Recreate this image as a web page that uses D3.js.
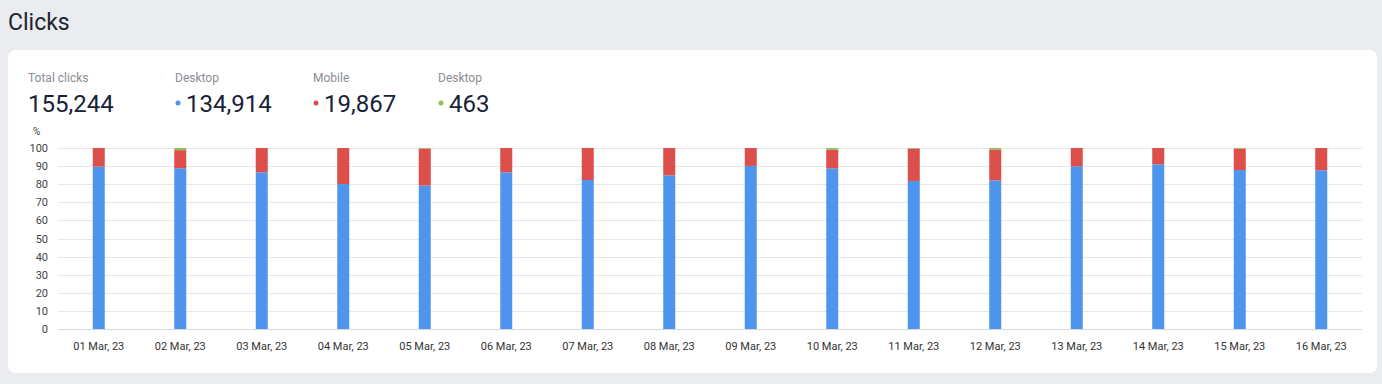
<!DOCTYPE html>
<html>
<head>
<meta charset="utf-8">
<script src="https://cdn.jsdelivr.net/npm/d3@7"></script>
<style>
  html, body { margin: 0; padding: 0; background: #eaecf0; }
  svg { display: block; font-family: Roboto, "Noto Sans", Arial, sans-serif; }
</style>
</head>
<body>
<svg id="chart" width="1382" height="384"></svg>
<script>
const categories = ["01 Mar, 23","02 Mar, 23","03 Mar, 23","04 Mar, 23","05 Mar, 23","06 Mar, 23","07 Mar, 23","08 Mar, 23","09 Mar, 23","10 Mar, 23","11 Mar, 23","12 Mar, 23","13 Mar, 23","14 Mar, 23","15 Mar, 23","16 Mar, 23"];
const desktop = [89.7, 88.8, 86.6, 80.1, 79.2, 86.6, 82.3, 84.9, 90.1, 88.8, 81.8, 82.1, 89.9, 91.0, 87.8, 87.7];
const other   = [0, 1.2, 0, 0, 0.3, 0, 0, 0, 0, 1.0, 0.3, 0.8, 0, 0, 0.3, 0];
const mobile  = desktop.map((d, i) => +(100 - d - other[i]).toFixed(1));
const yTicks = [0,10,20,30,40,50,60,70,80,90,100];
const summaryLabels = ["Total clicks","Desktop","Mobile","Desktop"];
const summaryValues = ["155,244","134,914","19,867","463"];
const seriesKeys = ["desktop","mobile","other"];
const seriesColors = ["#4f95ee","#dc4f4b","#8cc152"];

const svg = d3.select("#chart");

// Title
svg.append("text").attr("x", 8).attr("y", 30).attr("font-size", 23).attr("fill", "#1e2430").text("Clicks");

// Card
svg.append("rect").attr("x", 8).attr("y", 50).attr("width", 1369).attr("height", 323).attr("rx", 7).attr("fill", "#fff");

// Summary
const sumX = [28, 175, 313, 438];
summaryLabels.forEach((l, i) => {
  svg.append("text").attr("x", sumX[i]).attr("y", 82).attr("font-size", 12).attr("fill", "#8a8d93").text(l);
  let tx = sumX[i];
  if (i > 0) {
    svg.append("circle").attr("cx", sumX[i] + 3).attr("cy", 103).attr("r", 2.5).attr("fill", seriesColors[i - 1]);
    tx = sumX[i] + 11;
  }
  svg.append("text").attr("x", tx).attr("y", 112).attr("font-size", 24).attr("fill", "#182237").text(summaryValues[i]);
});

// Scales
const x = d3.scaleBand().domain(categories).range([58, 1362]).paddingInner(0).paddingOuter(0);
const y = d3.scaleLinear().domain([0, 100]).range([329, 148]);
const barW = 12;

// Grid
svg.append("g").selectAll("line").data(yTicks).join("line")
  .attr("x1", 58).attr("x2", 1362)
  .attr("y1", d => Math.round(y(d)) + 0.5).attr("y2", d => Math.round(y(d)) + 0.5)
  .attr("stroke", d => d === 0 ? "#d5d8dd" : "#e6e7ea").attr("stroke-width", 1);

// Y axis
const yAxis = svg.append("g").attr("transform", "translate(48,0)")
  .call(d3.axisLeft(y).tickValues(yTicks).tickSize(0).tickPadding(0));
yAxis.select(".domain").remove();
yAxis.selectAll("text").attr("font-size", 11).attr("fill", "#444").attr("font-family", "Roboto, Arial, sans-serif");
svg.append("text").attr("x", 33).attr("y", 135).attr("font-size", 10).attr("fill", "#444").text("%");

// X axis
const xAxis = svg.append("g").attr("transform", "translate(0,340)")
  .call(d3.axisBottom(x).tickSize(0).tickPadding(0));
xAxis.select(".domain").remove();
xAxis.selectAll("text").attr("font-size", 11).attr("fill", "#333").attr("dy", "0.9em").attr("font-family", "Roboto, Arial, sans-serif");

// Stacked bars
const rows = categories.map((c, i) => ({cat: c, desktop: desktop[i], mobile: mobile[i], other: other[i]}));
const stack = d3.stack().keys(seriesKeys)(rows);
svg.append("g").selectAll("g").data(stack).join("g")
  .attr("fill", (d, i) => seriesColors[i])
  .selectAll("rect").data(d => d).join("rect")
  .attr("x", d => x(d.data.cat) + x.bandwidth() / 2 - barW / 2)
  .attr("width", barW)
  .attr("y", d => y(d[1]))
  .attr("height", d => Math.max(0, y(d[0]) - y(d[1])));
</script>
</body>
</html>
